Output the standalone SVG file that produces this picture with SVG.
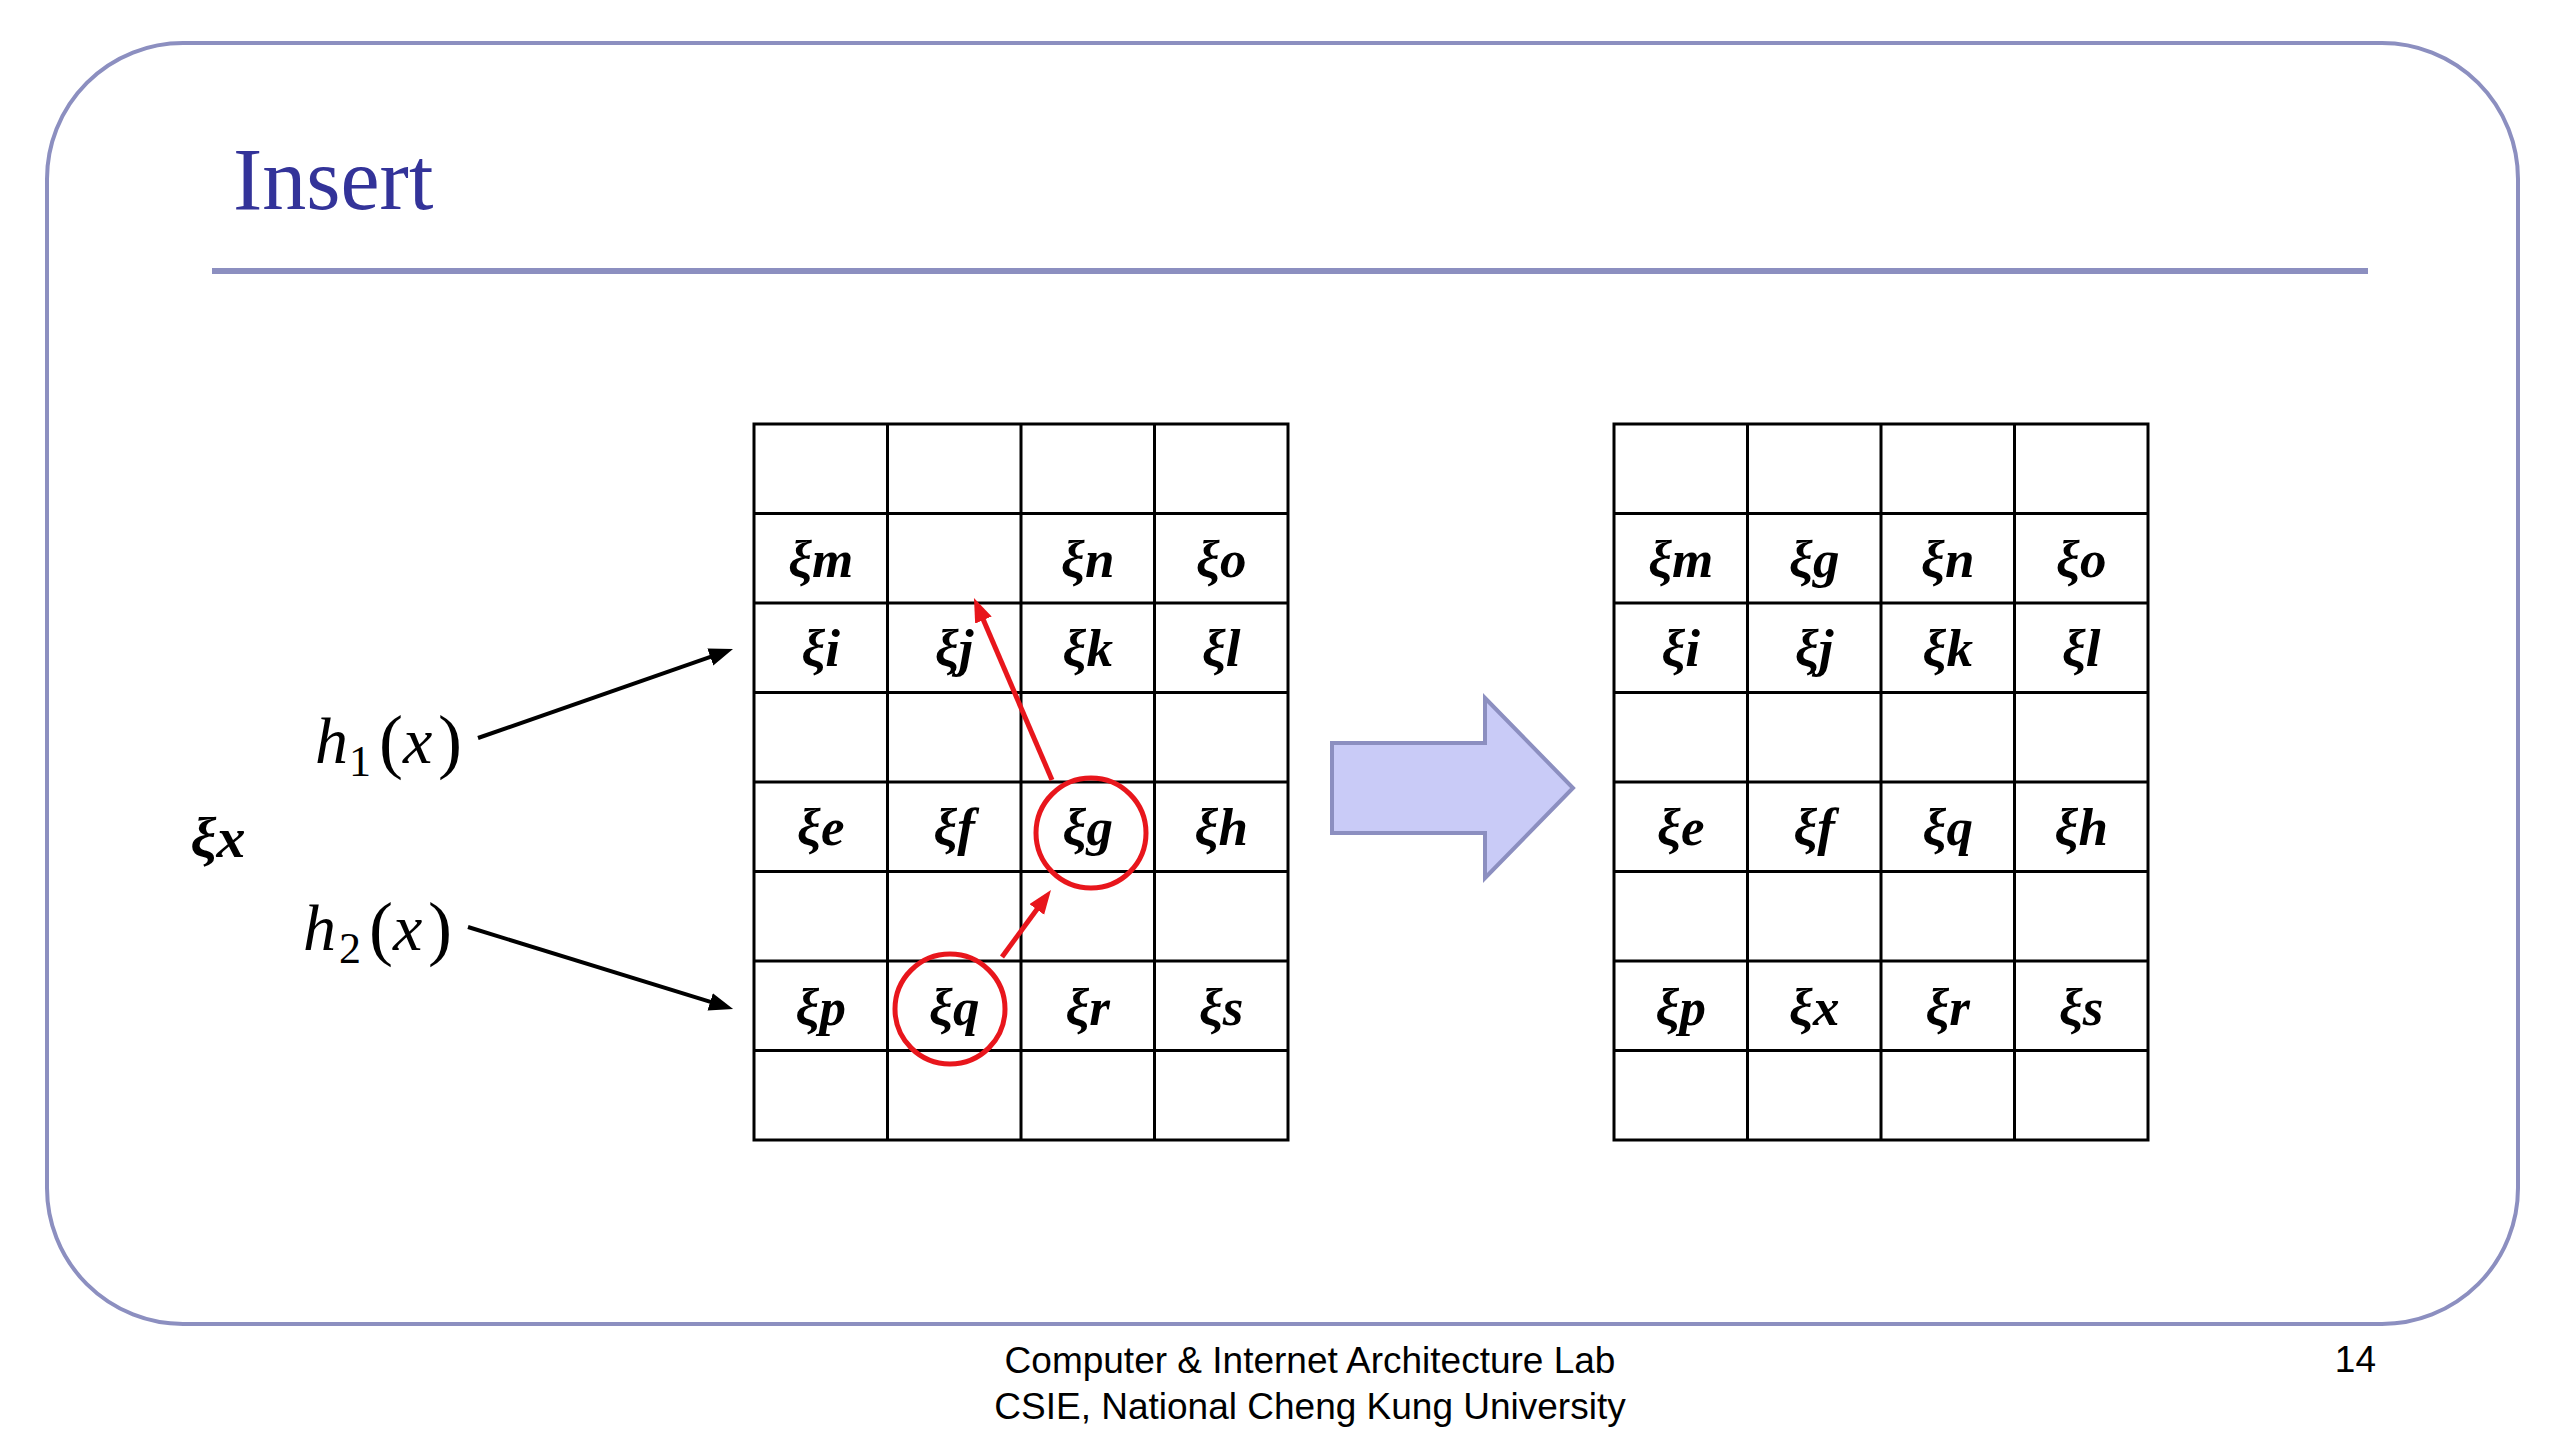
<svg xmlns="http://www.w3.org/2000/svg" width="2560" height="1440" viewBox="0 0 2560 1440">
<defs>
<style>
.frame{fill:none;stroke:#8C8FC0;stroke-width:4}
.rule{stroke:#8C8FC0;stroke-width:6}
.title{font-family:"Liberation Serif","Times New Roman",serif;font-size:88px;fill:#333399}
.grid{fill:none;stroke:#000;stroke-width:3}
.cell{font-family:"Liberation Serif","Times New Roman",serif;font-size:53px;font-weight:bold;font-style:italic;fill:#000;text-anchor:middle}
.key{font-size:58px}
.math{font-family:"Liberation Serif","Times New Roman",serif;font-size:66px;fill:#000}
.it{font-style:italic}
.par{font-size:72px}
.sub{font-size:44px}
.foot{font-family:"Liberation Sans",Arial,sans-serif;font-size:37px;fill:#000}
.blk{stroke:#000;stroke-width:4;fill:none}
.red{stroke:#E8161C;stroke-width:5;fill:none}
.ring{stroke:#E8161C;stroke-width:5;fill:none}
.big{fill:#C9CBF7;stroke:#8C8FC0;stroke-width:4;stroke-linejoin:miter}
</style>
<marker id="ab" markerUnits="userSpaceOnUse" markerWidth="26" markerHeight="20" refX="13" refY="9" orient="auto">
<path d="M0,0 L24,9 L0,18 z" fill="#000"/>
</marker>
<marker id="ar" markerUnits="userSpaceOnUse" markerWidth="26" markerHeight="20" refX="13" refY="9" orient="auto">
<path d="M0,0 L24,9 L0,18 z" fill="#E8161C"/>
</marker>
</defs>
<rect width="2560" height="1440" fill="#fff"/>
<rect class="frame" x="47" y="43" width="2471" height="1281" rx="136" ry="136"/>
<line class="rule" x1="212" y1="271" x2="2368" y2="271"/>
<text class="title" x="233" y="209">Insert</text>

<g id="table-before">
<rect class="grid" x="754" y="424" width="534" height="716"/>
<path class="grid" d="M887.5,424V1140M1021,424V1140M1154.5,424V1140M754,513.5H1288M754,603H1288M754,692.5H1288M754,782H1288M754,871.5H1288M754,961H1288M754,1050.5H1288"/>
<text class="cell" x="820.75" y="577">ξm</text>
<text class="cell" x="1087.75" y="577">ξn</text>
<text class="cell" x="1221.25" y="577">ξo</text>
<text class="cell" x="820.75" y="666">ξi</text>
<text class="cell" x="954.25" y="666">ξj</text>
<text class="cell" x="1087.75" y="666">ξk</text>
<text class="cell" x="1221.25" y="666">ξl</text>
<text class="cell" x="820.75" y="845">ξe</text>
<text class="cell" x="954.25" y="845">ξf</text>
<text class="cell" x="1087.75" y="845">ξg</text>
<text class="cell" x="1221.25" y="845">ξh</text>
<text class="cell" x="820.75" y="1025">ξp</text>
<text class="cell" x="954.25" y="1025">ξq</text>
<text class="cell" x="1087.75" y="1025">ξr</text>
<text class="cell" x="1221.25" y="1025">ξs</text>
<circle class="ring" cx="1091" cy="833" r="55"/>
<circle class="ring" cx="950" cy="1009" r="55"/>
</g>

<g id="table-after">
<rect class="grid" x="1614" y="424" width="534" height="716"/>
<path class="grid" d="M1747.5,424V1140M1881,424V1140M2014.5,424V1140M1614,513.5H2148M1614,603H2148M1614,692.5H2148M1614,782H2148M1614,871.5H2148M1614,961H2148M1614,1050.5H2148"/>
<text class="cell" x="1680.75" y="577">ξm</text>
<text class="cell" x="1814.25" y="577">ξg</text>
<text class="cell" x="1947.75" y="577">ξn</text>
<text class="cell" x="2081.25" y="577">ξo</text>
<text class="cell" x="1680.75" y="666">ξi</text>
<text class="cell" x="1814.25" y="666">ξj</text>
<text class="cell" x="1947.75" y="666">ξk</text>
<text class="cell" x="2081.25" y="666">ξl</text>
<text class="cell" x="1680.75" y="845">ξe</text>
<text class="cell" x="1814.25" y="845">ξf</text>
<text class="cell" x="1947.75" y="845">ξq</text>
<text class="cell" x="2081.25" y="845">ξh</text>
<text class="cell" x="1680.75" y="1025">ξp</text>
<text class="cell" x="1814.25" y="1025">ξx</text>
<text class="cell" x="1947.75" y="1025">ξr</text>
<text class="cell" x="2081.25" y="1025">ξs</text>
</g>

<g id="key-x">
<text class="cell key" x="218" y="857">ξx</text>
</g>

<g id="label-h1">
<text class="math"><tspan class="it" x="315" y="763">h</tspan><tspan class="sub" x="349" y="776">1</tspan><tspan class="par" x="379" y="765">(</tspan><tspan class="it" x="403" y="763">x</tspan><tspan class="par" x="438" y="765">)</tspan></text>
</g>
<g id="label-h2">
<text class="math"><tspan class="it" x="303" y="950">h</tspan><tspan class="sub" x="339" y="963">2</tspan><tspan class="par" x="369" y="952">(</tspan><tspan class="it" x="393" y="950">x</tspan><tspan class="par" x="428" y="952">)</tspan></text>
</g>

<g id="transform-arrow">
<polygon class="big" points="1332,743 1485,743 1485,698 1573,788 1485,878 1485,833 1332,833"/>
</g>

<g id="connectors">
<line class="blk" x1="478" y1="738" x2="722.6" y2="652.6" marker-end="url(#ab)"/>
<line class="blk" x1="468" y1="927" x2="722.6" y2="1005.7" marker-end="url(#ab)"/>
<line class="red" x1="1052" y1="780" x2="978.3" y2="608.1" marker-end="url(#ar)"/>
<line class="red" x1="1002" y1="957" x2="1044.5" y2="898.9" marker-end="url(#ar)"/>
</g>

<text class="foot" x="1310" y="1373" text-anchor="middle">Computer &amp; Internet Architecture Lab</text>
<text class="foot" x="1310" y="1419" text-anchor="middle">CSIE, National Cheng Kung University</text>
<text class="foot" x="2376" y="1372" text-anchor="end">14</text>
</svg>
